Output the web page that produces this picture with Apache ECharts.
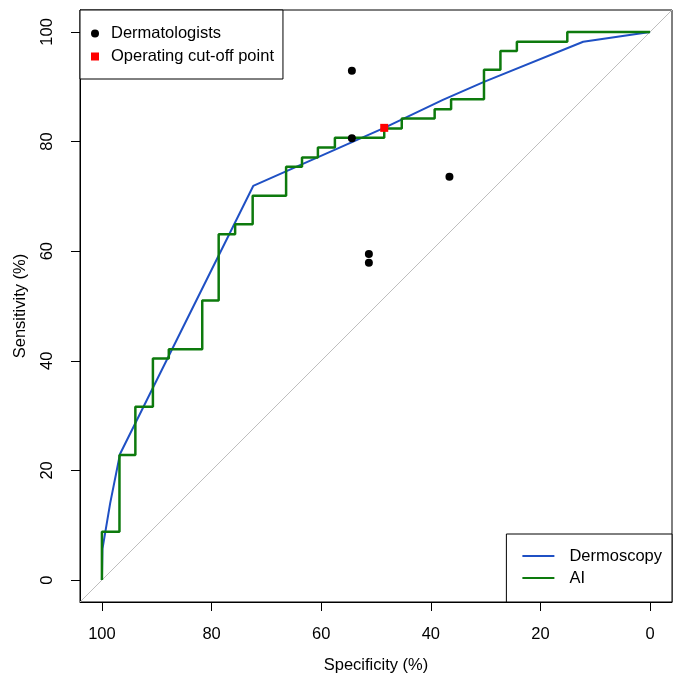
<!DOCTYPE html>
<html>
<head>
<meta charset="utf-8">
<script src="https://cdn.jsdelivr.net/npm/echarts@6/dist/echarts.min.js"></script>
<style>
html,body{margin:0;padding:0;background:#fff;}
#chart{width:683px;height:684px;}
</style>
</head>
<body>
<div id="chart"></div>
<script>
// Tick values (both axes, percent)
const axisTicks = [0, 20, 40, 60, 80, 100];

// Dermoscopy ROC curve: [specificity, sensitivity]
const dermoscopySpec = [100, 99.9, 98.5, 96.7, 72.4, 48.5, 37.8, 30.3, 12.2, 0];
const dermoscopySens = [0, 5.7, 14, 23, 71.9, 82.5, 87.6, 90.9, 98.2, 100];

// AI ROC curve (step corners): [specificity, sensitivity]
const aiSpec = [100, 100, 96.8, 93.9, 90.7, 87.8, 81.7, 78.7, 75.7, 72.5, 66.4, 63.5, 60.6, 57.5, 48.5, 45.3, 39.3, 36.3, 30.3, 27.3, 24.3, 15.1, 0];
const aiSens = [0, 8.8, 22.8, 31.6, 40.4, 42.1, 51.0, 63.1, 64.9, 70.1, 75.4, 77.1, 78.9, 80.7, 82.4, 84.2, 85.9, 87.7, 93.1, 96.5, 98.2, 100, 100];

// Dermatologists
const dermSpec = [54.4, 54.4, 36.6, 51.3, 51.3];
const dermSens = [92.9, 80.6, 73.6, 59.5, 57.9];

// Operating cut-off point
const cutSpec = [48.5];
const cutSens = [82.5];

// Chance diagonal
const diagSpec = [104, -4];
const diagSens = [-4, 104];

const zip = (a, b) => a.map((v, i) => [v, b[i]]);
const FONT = 'Liberation Sans, Arial, sans-serif';

const chart = echarts.init(document.getElementById('chart'), null, {renderer: 'canvas'});
chart.setOption({
  animation: false,
  backgroundColor: '#ffffff',
  textStyle: {fontFamily: FONT, color: '#000'},
  grid: {left: 80, right: 11, top: 10, bottom: 82, show: true, borderColor: '#000', borderWidth: 1, backgroundColor: 'transparent'},
  xAxis: {
    type: 'value', min: -4, max: 104, inverse: true,
    name: 'Specificity (%)', nameLocation: 'middle', nameGap: 55,
    nameTextStyle: {fontSize: 16.5, color: '#000', fontFamily: FONT},
    axisLine: {show: true, onZero: false, lineStyle: {color: '#000', width: 1}},
    axisTick: {show: true, length: 9, customValues: axisTicks, lineStyle: {color: '#000', width: 1}},
    axisLabel: {customValues: axisTicks, margin: 24, fontSize: 16.5, color: '#000', fontFamily: FONT},
    splitLine: {show: false}
  },
  yAxis: {
    type: 'value', min: -4, max: 104,
    name: 'Sensitivity (%)', nameLocation: 'middle', nameGap: 51,
    nameTextStyle: {fontSize: 16.5, color: '#000', fontFamily: FONT},
    axisLine: {show: true, onZero: false, lineStyle: {color: '#000', width: 1}},
    axisTick: {show: true, length: 9, customValues: axisTicks, lineStyle: {color: '#000', width: 1}},
    axisLabel: {customValues: axisTicks, margin: 24, rotate: 90, fontSize: 16.5, color: '#000', fontFamily: FONT},
    splitLine: {show: false}
  },
  legend: [
    {
      data: ['Dermatologists', 'Operating cut-off point'],
      orient: 'vertical', left: 80, top: 10,
      borderColor: '#000', borderWidth: 1, borderRadius: 0,
      padding: [15, 9, 14, 11],
      itemWidth: 8, itemHeight: 8, itemGap: 6,
      textStyle: {fontSize: 16.5, color: '#000', fontFamily: FONT, padding: [0, 0, 0, 7]},
      backgroundColor: '#fff'
    },
    {
      data: ['Dermoscopy', 'AI'],
      orient: 'vertical', right: 11, bottom: 82,
      borderColor: '#000', borderWidth: 1, borderRadius: 0,
      padding: [13.5, 10, 15.5, 15],
      itemWidth: 32, itemHeight: 2, itemGap: 5,
      textStyle: {fontSize: 16.5, color: '#000', fontFamily: FONT, padding: [0, 0, 0, 10]},
      backgroundColor: '#fff'
    }
  ],
  series: [
    {
      name: 'Chance', type: 'line', data: zip(diagSpec, diagSens),
      showSymbol: false, symbol: 'none', silent: true,
      lineStyle: {color: '#bebebe', width: 1}, z: 1
    },
    {
      name: 'Dermoscopy', type: 'line', data: zip(dermoscopySpec, dermoscopySens),
      showSymbol: false, symbol: 'none',
      lineStyle: {color: '#1f50c4', width: 2}, itemStyle: {color: '#1f50c4'}, z: 2
    },
    {
      name: 'AI', type: 'line', step: 'end', data: zip(aiSpec, aiSens),
      showSymbol: false, symbol: 'none',
      lineStyle: {color: '#0d7a0d', width: 2.5}, itemStyle: {color: '#0d7a0d'}, z: 3
    },
    {
      name: 'Dermatologists', type: 'scatter', data: zip(dermSpec, dermSens),
      symbol: 'circle', symbolSize: 8,
      itemStyle: {color: '#000', opacity: 1}, z: 4
    },
    {
      name: 'Operating cut-off point', type: 'scatter', data: zip(cutSpec, cutSens),
      symbol: 'rect', symbolSize: 8,
      itemStyle: {color: '#ff0000', opacity: 1}, z: 5
    }
  ]
});
</script>
</body>
</html>
